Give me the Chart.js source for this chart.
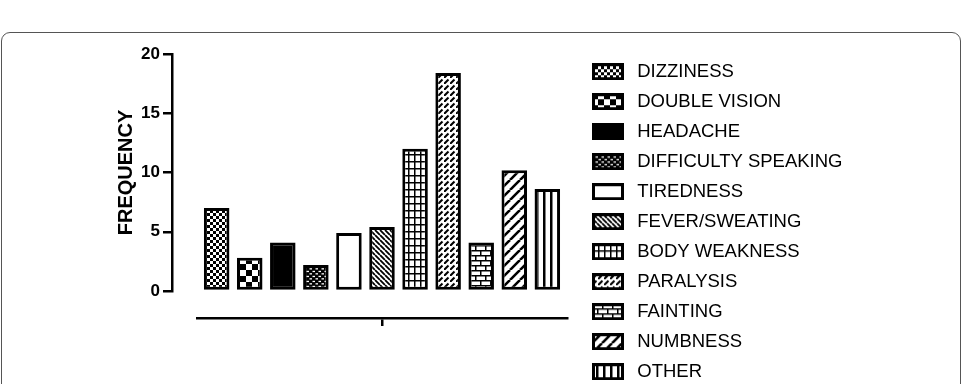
<!DOCTYPE html>
<html>
<head>
<meta charset="utf-8">
<script src="https://cdn.jsdelivr.net/npm/chart.js@4.4.0/dist/chart.umd.min.js"></script>
<style>
  html, body { margin: 0; background: #fff; overflow: hidden; }
  #frame { position: absolute; left: 1px; top: 32px; width: 958px; height: 400px; border: 1.5px solid #555; border-radius: 9px; }
  #chart { position: absolute; left: 0; top: 0; }
</style>
</head>
<body>
<div id="frame"></div>
<canvas id="chart" width="971" height="384"></canvas>
<script>
const categories = ['DIZZINESS', 'DOUBLE VISION', 'HEADACHE', 'DIFFICULTY SPEAKING', 'TIREDNESS',
  'FEVER/SWEATING', 'BODY WEAKNESS', 'PARALYSIS', 'FAINTING', 'NUMBNESS', 'OTHER']
const frequency = [7.0, 2.8, 4.1, 2.2, 4.9, 5.4, 12.0, 18.4, 4.1, 10.2, 8.6]
const yTicks = [0, 5, 10, 15, 20]

const FONT = "'Liberation Sans', Arial, sans-serif"
const LEGEND_SIZE = 18.5
const LEGEND_PAD = 11.5

// small canvas tiles used as hatch fills
const makeTile = (w, h, draw) => {
  const c = document.createElement('canvas')
  c.width = w
  c.height = h
  const g = c.getContext('2d')
  g.fillStyle = '#fff'
  g.fillRect(0, 0, w, h)
  g.fillStyle = '#000'
  g.strokeStyle = '#000'
  draw(g, w, h)
  return c
}

const diag = (g, s, width, up) => {
  g.lineWidth = width
  g.beginPath()
  for (let k = -1; k <= 1; k++) {
    if (up) { g.moveTo(k * s, s); g.lineTo(k * s + s, 0) }
    else { g.moveTo(k * s, 0); g.lineTo(k * s + s, s) }
  }
  g.stroke()
}

const tiles = [
  makeTile(6, 6, g => { g.fillRect(0, 0, 3, 3); g.fillRect(3, 3, 3, 3) }),
  makeTile(12, 12, g => { g.fillRect(0, 0, 6, 6); g.fillRect(6, 6, 6, 6) }),
  '#000',
  makeTile(6, 5, g => {
    g.fillRect(0, 0, 6, 5)
    g.fillStyle = '#fff'
    g.fillRect(0.5, 0.8, 2.5, 1.3)
    g.fillRect(3.5, 3.2, 2.5, 1.3)
  }),
  '#fff',
  makeTile(5, 5, g => diag(g, 5, 1.8, false)),
  makeTile(6, 7, g => { g.fillRect(0, 0, 6, 1.5); g.fillRect(0, 0, 1.5, 7) }),
  makeTile(6, 6, g => {
    g.lineWidth = 2
    g.beginPath()
    g.moveTo(0, 6); g.lineTo(4.5, 1.5)
    g.stroke()
  }),
  makeTile(10, 10, g => {
    g.fillRect(0, 0, 10, 1.5); g.fillRect(0, 5, 10, 1.5)
    g.fillRect(0, 0, 1.5, 5); g.fillRect(5, 5, 1.5, 5)
  }),
  makeTile(10, 10, g => diag(g, 10, 2.6, true)),
  makeTile(7, 1, g => { g.fillRect(4, 0, 2.5, 1) })
]

const canvas = document.getElementById('chart')
const ctx = canvas.getContext('2d')

const fills = tiles.map(t => typeof t === 'string' ? t : ctx.createPattern(t, 'repeat'))

// legend swatches
const icons = tiles.map(t => {
  const c = document.createElement('canvas')
  c.width = 32
  c.height = 17
  const g = c.getContext('2d')
  g.fillStyle = typeof t === 'string' ? t : g.createPattern(t, 'repeat')
  g.fillRect(0, 0, 32, 17)
  g.strokeStyle = '#000'
  g.lineWidth = 3
  g.strokeRect(1.5, 1.5, 29, 14)
  return c
})

// legend width, so the legend can start right after the chart area
ctx.font = LEGEND_SIZE + 'px ' + FONT
const longest = Math.max(...categories.map(c => ctx.measureText(c).width))
const legendWidth = Math.ceil(LEGEND_PAD + 40 + LEGEND_SIZE / 2 + longest + 2)
const rightPad = 971 - 576.5 - legendWidth

const spacer = (size, horizontal) => ({
  display: true,
  grid: { display: false },
  border: { display: false },
  ticks: { display: false },
  afterFit: (scale) => {
    if (horizontal) scale.height = size
    else scale.width = size
  },
})

new Chart(ctx, {
  type: 'bar',
  data: {
    labels: [''],
    datasets: categories.map((name, i) => ({
      label: name,
      data: [frequency[i]],
      backgroundColor: fills[i],
      borderColor: '#000',
      borderWidth: 3,
      borderSkipped: false,
      xAxisID: 'x',
      yAxisID: 'y',
      categoryPercentage: 0.983,
      barPercentage: 0.772,
    })),
  },
  options: {
    responsive: false,
    animation: false,
    devicePixelRatio: 1,
    layout: { padding: { left: 100, right: rightPad, top: 51, bottom: -20 } },
    scales: {
      x: {
        type: 'category',
        position: 'bottom',
        weight: 1,
        grid: { display: true, drawOnChartArea: false, drawTicks: true, tickLength: 8, offset: false, color: '#000', lineWidth: 2.5 },
        border: { display: true, color: '#000', width: 2.5 },
        ticks: { display: false },
        afterFit: (scale) => { scale.height = 86 },
      },
      y: {
        type: 'linear',
        position: 'left',
        weight: 1,
        min: 0,
        max: 20,
        afterBuildTicks: (scale) => { scale.ticks = yTicks.map(v => ({ value: v })) },
        grid: { display: true, drawOnChartArea: false, drawTicks: true, tickLength: 9, color: '#000', lineWidth: 2.5 },
        border: { display: true, color: '#000', width: 2.5 },
        ticks: { padding: 3, color: '#000', font: { family: FONT, size: 17, weight: 'bold' } },
        title: {
          display: true,
          text: 'FREQUENCY',
          color: '#000',
          padding: { top: 14, bottom: 0 },
          font: { family: FONT, size: 20, weight: 'bold' },
        },
        afterFit: (scale) => { scale.width = 72 },
      },
      xTop: { type: 'category', position: 'top', ...spacer(3, true) },
      xPad: { type: 'category', position: 'bottom', weight: 0, ...spacer(27, true) },
      yPad: { type: 'linear', position: 'left', weight: 0, ...spacer(25, false) },
      yRight: { type: 'linear', position: 'right', weight: 0, ...spacer(9.5, false) },
    },
    plugins: {
      tooltip: { enabled: false },
      legend: {
        position: 'right',
        align: 'start',
        maxWidth: legendWidth,
        labels: {
          usePointStyle: true,
          pointStyleWidth: 40,
          padding: LEGEND_PAD,
          color: '#000',
          font: { family: FONT, size: LEGEND_SIZE },
          generateLabels: (chart) => chart.data.datasets.map((ds, i) => ({
            text: ds.label,
            pointStyle: icons[i],
            fontColor: '#000',
            fillStyle: '#000',
            strokeStyle: '#000',
            lineWidth: 0,
            hidden: false,
            datasetIndex: i,
          })),
        },
      },
    },
  },
})
</script>
</body>
</html>
